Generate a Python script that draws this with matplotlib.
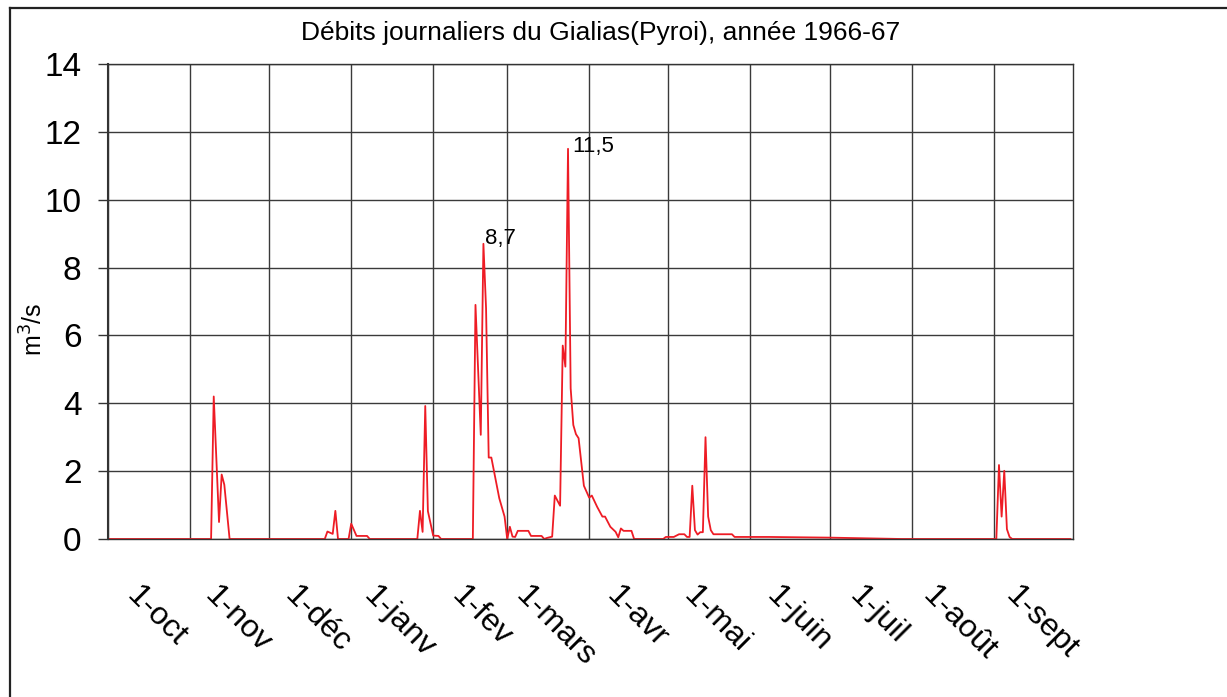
import matplotlib.pyplot as plt
import matplotlib.dates as mdates
import pandas as pd
from matplotlib.lines import Line2D
from matplotlib.transforms import ScaledTranslation

plt.rcParams['font.family'] = ['Liberation Sans', 'DejaVu Sans']

# Debits journaliers (points de rupture)
dates = ['1966-10-01', '1966-11-09', '1966-11-10', '1966-11-12', '1966-11-13',
         '1966-11-14', '1966-11-16', '1966-12-22', '1966-12-23', '1966-12-25',
         '1966-12-26', '1966-12-27', '1966-12-31', '1967-01-01', '1967-01-03',
         '1967-01-07', '1967-01-08', '1967-01-26', '1967-01-27', '1967-01-28',
         '1967-01-29', '1967-01-30', '1967-02-01', '1967-02-03', '1967-02-04',
         '1967-02-16', '1967-02-17', '1967-02-19', '1967-02-20', '1967-02-21',
         '1967-02-22', '1967-02-23', '1967-02-26', '1967-02-28', '1967-03-01',
         '1967-03-02', '1967-03-03', '1967-03-04', '1967-03-05', '1967-03-09',
         '1967-03-10', '1967-03-14', '1967-03-15', '1967-03-16', '1967-03-18',
         '1967-03-19', '1967-03-21', '1967-03-22', '1967-03-23', '1967-03-24',
         '1967-03-25', '1967-03-26', '1967-03-27', '1967-03-28', '1967-03-30',
         '1967-04-01', '1967-04-02', '1967-04-04', '1967-04-06', '1967-04-07',
         '1967-04-09', '1967-04-11', '1967-04-12', '1967-04-13', '1967-04-14',
         '1967-04-17', '1967-04-18', '1967-04-29', '1967-04-30', '1967-05-03',
         '1967-05-05', '1967-05-07', '1967-05-08', '1967-05-09', '1967-05-10',
         '1967-05-11', '1967-05-12', '1967-05-13', '1967-05-14', '1967-05-15',
         '1967-05-16', '1967-05-17', '1967-05-18', '1967-05-25', '1967-05-26',
         '1967-06-08', '1967-07-01', '1967-07-28', '1967-09-02', '1967-09-03',
         '1967-09-04', '1967-09-05', '1967-09-06', '1967-09-07', '1967-09-08',
         '1967-09-30']
debits = [0, 0, 4.2, 0.5, 1.9,
          1.6, 0, 0, 0.22, 0.15,
          0.83, 0, 0, 0.45, 0.09,
          0.09, 0, 0, 0.83, 0.21,
          3.92, 0.82, 0.1, 0.09, 0,
          0, 6.9, 3.07, 8.7, 6.8,
          2.4, 2.4, 1.2, 0.66, 0,
          0.36, 0.07, 0.06, 0.24, 0.24,
          0.09, 0.09, 0, 0.03, 0.07,
          1.28, 0.98, 5.7, 5.08, 11.5,
          4.44, 3.36, 3.09, 2.97, 1.57,
          1.22, 1.28, 0.95, 0.66, 0.66,
          0.36, 0.21, 0.05, 0.31, 0.24,
          0.24, 0, 0, 0.06, 0.06,
          0.14, 0.14, 0.06, 0.06, 1.57,
          0.26, 0.13, 0.2, 0.2, 3.0,
          0.66, 0.26, 0.14, 0.14, 0.06,
          0.06, 0.04, 0, 0, 2.18,
          0.66, 2.01, 0.29, 0.06, 0,
          0]

mois = ['1966-10-01', '1966-11-01', '1966-12-01', '1967-01-01', '1967-02-01',
        '1967-03-01', '1967-04-01', '1967-05-01', '1967-06-01', '1967-07-01',
        '1967-08-01', '1967-09-01']
etiquettes = ['1-oct', '1-nov', '1-déc', '1-janv', '1-fev', '1-mars', '1-avr',
              '1-mai', '1-juin', '1-juil', '1-août', '1-sept']

t = pd.to_datetime(dates)
m = pd.to_datetime(mois)

fig = plt.figure(figsize=(12.27, 6.97), dpi=100)
ax = fig.add_axes([0.088, 0.2267, 0.7865, 0.6815])

ax.plot(t, debits, '-', color='#ee1c25', linewidth=1.3)

ax.set_xlim(pd.Timestamp('1966-10-01'), pd.Timestamp('1967-10-01'))
ax.set_ylim(0, 14)
ax.set_yticks(range(0, 15, 2))
ax.set_xticks(m)
ax.set_xticklabels(etiquettes, rotation=-45, ha='center', va='top', fontsize=23)
ax.grid(True, color='#3a3a3a', linewidth=1)
ax.tick_params(axis='x', length=0, pad=30)
ax.tick_params(axis='y', length=7, width=1, color='#333333', labelsize=24, pad=12)
for s in ax.spines.values():
    s.set_color('#333333')
    s.set_linewidth(1)
ax.spines['left'].set_linewidth(1.5)

decal = ScaledTranslation(0.48, 0, fig.dpi_scale_trans)
for lab in ax.get_xticklabels():
    lab.set_transform(lab.get_transform() + decal)

ax.set_ylabel('m$^3$/s', fontsize=18)
ax.yaxis.set_label_coords(-0.063, 0.442)

ax.set_title('Débits journaliers du Gialias(Pyroi), année 1966-67', fontsize=19,
             pad=17, x=0.511)

ax.annotate('8,7', xy=(pd.Timestamp('1967-02-20'), 8.7), xytext=(1, 0),
            textcoords='offset points', va='baseline', fontsize=16)
ax.annotate('11,5', xy=(pd.Timestamp('1967-03-24'), 11.5), xytext=(3, -2),
            textcoords='offset points', va='baseline', fontsize=16)

# cadre autour de la figure (haut et gauche)
fig.add_artist(Line2D([0.008, 1.0], [0.989, 0.989], transform=fig.transFigure,
                      color='#222222', linewidth=1.6))
fig.add_artist(Line2D([0.008, 0.008], [0.0, 0.989], transform=fig.transFigure,
                      color='#222222', linewidth=1.6))

plt.savefig('out.png', dpi=100)
